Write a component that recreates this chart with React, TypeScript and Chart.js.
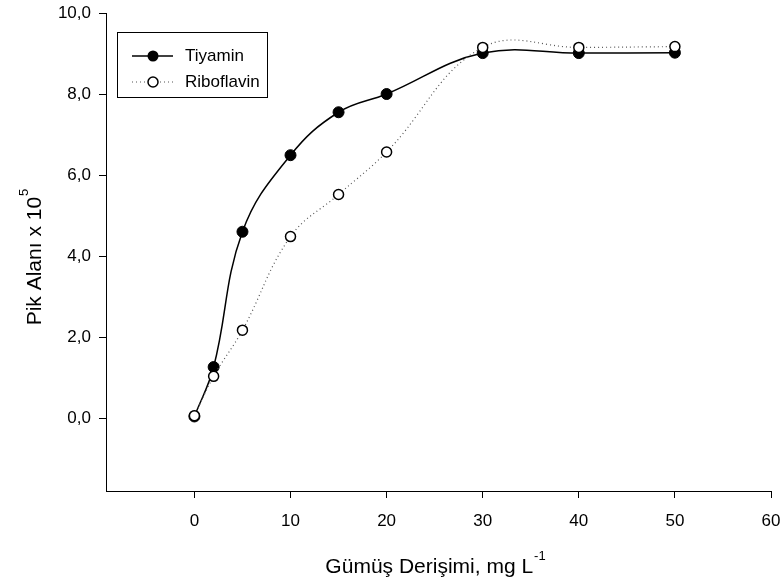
import React, { useEffect, useRef } from "react";
import { Chart, registerables } from "chart.js";

Chart.register(...registerables);

const xValues = [0, 2, 5, 10, 15, 20, 30, 40, 50];
const tiyamin = [0.04, 1.26, 4.6, 6.49, 7.55, 8.0, 9.01, 9.01, 9.02];
const riboflavin = [0.06, 1.03, 2.17, 4.48, 5.52, 6.57, 9.15, 9.15, 9.17];
const xTicks = [0, 10, 20, 30, 40, 50, 60];
const yTicks = [0, 2, 4, 6, 8, 10];
const seriesNames = ["Tiyamin", "Riboflavin"];
const yTitle = "Pik Alanı x 10";
const yTitleSup = "5";
const xTitle = "Gümüş Derişimi, mg L";
const xTitleSup = "-1";

const FONT = "'Liberation Sans', Arial, Helvetica, sans-serif";

const overlayPlugin = {
  id: "overlay",
  afterDraw(chart: any) {
    const ctx = chart.ctx as CanvasRenderingContext2D;
    ctx.save();
    // Legend box
    const bx = 117, by = 32, bw = 150, bh = 65;
    ctx.strokeStyle = "#000";
    ctx.lineWidth = 1;
    ctx.strokeRect(bx + 0.5, by + 0.5, bw, bh);
    const rows = [56, 82];
    // Tiyamin sample
    ctx.beginPath();
    ctx.setLineDash([]);
    ctx.lineWidth = 1.5;
    ctx.moveTo(132, rows[0]);
    ctx.lineTo(173, rows[0]);
    ctx.stroke();
    ctx.beginPath();
    ctx.fillStyle = "#000";
    ctx.arc(153, rows[0], 5.5, 0, Math.PI * 2);
    ctx.fill();
    // Riboflavin sample
    ctx.beginPath();
    ctx.strokeStyle = "#555";
    ctx.lineWidth = 1.2;
    ctx.setLineDash([1, 3]);
    ctx.moveTo(132, rows[1]);
    ctx.lineTo(173, rows[1]);
    ctx.stroke();
    ctx.setLineDash([]);
    ctx.beginPath();
    ctx.fillStyle = "#fff";
    ctx.strokeStyle = "#000";
    ctx.lineWidth = 1.5;
    ctx.arc(153, rows[1], 5, 0, Math.PI * 2);
    ctx.fill();
    ctx.stroke();
    ctx.fillStyle = "#000";
    ctx.font = `17px ${FONT}`;
    ctx.textBaseline = "middle";
    ctx.textAlign = "left";
    ctx.fillText(seriesNames[0], 185, rows[0]);
    ctx.fillText(seriesNames[1], 185, rows[1]);

    // X title
    const ca = chart.chartArea;
    ctx.font = `21px ${FONT}`;
    const mainW = ctx.measureText(xTitle).width;
    ctx.font = `13px ${FONT}`;
    const supW = ctx.measureText(xTitleSup).width;
    const total = mainW + supW + 1;
    const cx = (ca.left + ca.right) / 2 - 3;
    const sx = cx - total / 2;
    ctx.textAlign = "left";
    ctx.textBaseline = "alphabetic";
    ctx.font = `21px ${FONT}`;
    ctx.fillText(xTitle, sx, 573);
    ctx.font = `13px ${FONT}`;
    ctx.fillText(xTitleSup, sx + mainW + 1, 560);

    // Y title rotated
    ctx.save();
    ctx.translate(41, 257);
    ctx.rotate(-Math.PI / 2);
    ctx.font = `21px ${FONT}`;
    const yMainW = ctx.measureText(yTitle).width;
    ctx.font = `13px ${FONT}`;
    const ySupW = ctx.measureText(yTitleSup).width;
    const yTotal = yMainW + ySupW + 1;
    const ysx = -yTotal / 2;
    ctx.font = `21px ${FONT}`;
    ctx.fillText(yTitle, ysx, 0);
    ctx.font = `13px ${FONT}`;
    ctx.fillText(yTitleSup, ysx + yMainW + 1, -13);
    ctx.restore();

    ctx.restore();
  },
};

export default function App() {
  const ref = useRef<HTMLCanvasElement>(null);

  useEffect(() => {
    if (!ref.current) return;
    const chart = new Chart(ref.current, {
      type: "line",
      data: {
        datasets: [
          {
            label: seriesNames[1],
            data: xValues.map((x, i) => ({ x, y: riboflavin[i] })),
            borderColor: "#555",
            borderWidth: 1.2,
            borderDash: [1, 3],
            tension: 0.4,
            pointRadius: 5,
            pointBackgroundColor: "#fff",
            pointBorderColor: "#000",
            pointBorderWidth: 1.5,
            fill: false,
            order: 0,
          },
          {
            label: seriesNames[0],
            data: xValues.map((x, i) => ({ x, y: tiyamin[i] })),
            borderColor: "#000",
            borderWidth: 1.5,
            tension: 0.4,
            pointRadius: 5.5,
            pointBackgroundColor: "#000",
            pointBorderColor: "#000",
            pointBorderWidth: 1,
            fill: false,
            order: 1,
          },
        ],
      },
      options: {
        animation: false,
        responsive: false,
        maintainAspectRatio: false,
        layout: { padding: { left: 0, top: 13, right: 11, bottom: 0 } },
        plugins: {
          legend: { display: false },
          tooltip: { enabled: false },
        },
        scales: {
          x: {
            type: "linear",
            min: -9.2,
            max: 60,
            afterBuildTicks: (s: any) => {
              s.ticks = xTicks.map((v) => ({ value: v }));
            },
            afterFit: (s: any) => {
              s.height = 94;
              s.paddingLeft = 0;
              s.paddingRight = 0;
            },
            grid: {
              drawOnChartArea: false,
              drawTicks: true,
              tickLength: 7,
              color: "#000",
            },
            border: { display: true, color: "#000", width: 1 },
            ticks: {
              color: "#000",
              font: { family: FONT, size: 17 },
              padding: 13,
              maxRotation: 0,
              callback: (v: any) => String(v),
            },
          },
          y: {
            type: "linear",
            min: -1.8,
            max: 10,
            afterBuildTicks: (s: any) => {
              s.ticks = yTicks.map((v) => ({ value: v }));
            },
            afterFit: (s: any) => {
              s.width = 106;
              s.paddingTop = 0;
              s.paddingBottom = 0;
            },
            grid: {
              drawOnChartArea: false,
              drawTicks: true,
              tickLength: 7,
              color: "#000",
            },
            border: { display: true, color: "#000", width: 1 },
            ticks: {
              color: "#000",
              font: { family: FONT, size: 17 },
              padding: 8,
              callback: (v: any) => Number(v).toFixed(1).replace(".", ","),
            },
          },
        },
      },
      plugins: [overlayPlugin],
    });
    return () => chart.destroy();
  }, []);

  return (
    <div style={{ position: "absolute", left: 0, top: 0, width: 782, height: 585, background: "#fff" }}>
      <canvas ref={ref} width={782} height={585} />
    </div>
  );
}
